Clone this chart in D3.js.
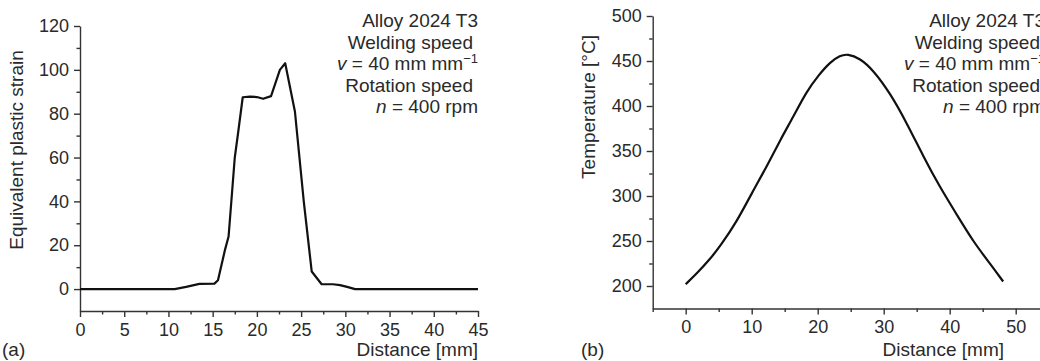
<!DOCTYPE html>
<html>
<head>
<meta charset="utf-8">
<script src="https://cdnjs.cloudflare.com/ajax/libs/d3/7.8.5/d3.min.js"></script>
<style>
  html, body { margin: 0; padding: 0; background: #fff; }
  svg { display: block; font-family: 'Liberation Sans', Arial, sans-serif; }
  .axis path, .axis line { stroke: #333; stroke-width: 1.4; }
  .axis text { fill: #2a2a2a; font-size: 18px; font-family: 'Liberation Sans', Arial, sans-serif; }
  .label { fill: #2a2a2a; font-size: 19px; }
</style>
</head>
<body>
<div id="top_div"></div>
<script>
// panel (a): equivalent plastic strain
var strainDist = [0, 10.7, 12, 13.5, 15.2, 15.6, 16.4, 16.8, 17.5, 17.9, 18.4, 19.2, 20.0, 20.7, 21.6, 22.6, 23.2, 24.3, 25.3, 26.2, 27.3, 28.6, 29.4, 30.2, 31.1, 45];
var strainVals = [0, 0, 1, 2.4, 2.5, 4, 18, 24, 60, 72, 87.5, 87.8, 87.6, 86.8, 88, 100, 103, 81, 40, 8, 2.3, 2.2, 1.8, 1, 0, 0];
var strainXTicks = [0, 5, 10, 15, 20, 25, 30, 35, 40, 45];
var strainYTicks = [0, 20, 40, 60, 80, 100, 120];

// panel (b): temperature
var tempDist = [0, 1.7, 3.7, 5.2, 7.7, 10, 12.3, 14.3, 16.3, 18.3, 20.1, 21.9, 23.4, 24.5, 26.4, 28.4, 31, 33.5, 36, 38.5, 41.1, 43.6, 46.1, 48.1];
var tempVals = [202, 214, 230, 244, 271, 303, 333, 362, 388, 416, 434, 449, 456, 458, 453, 440, 414, 381, 344, 310, 279, 249, 225, 205];
var tempXTicks = [0, 10, 20, 30, 40, 50, 60];
var tempYTicks = [200, 250, 300, 350, 400, 450, 500];

var noteLines = ['Alloy 2024 T3', 'Welding speed', 'v = 40 mm mm', 'Rotation speed', 'n = 400 rpm'];

var vis = d3.select('#top_div')
    .append('svg')
      .attr('width', 1040)
      .attr('height', 361);

function minorTicks(lo, hi, step) {
  var out = [];
  for (var v = lo; v <= hi + 1e-9; v += step) out.push(+v.toFixed(3));
  return out;
}

function drawPanel(p) {
  var g = vis.append('g');
  var x = d3.scaleLinear().domain(p.xDomain).range(p.xRange);
  var y = d3.scaleLinear().domain(p.yDomain).range(p.yRange);
  var bottom = p.yRange[0], left = p.xRange[0];

  // minor ticks first
  g.append('g').attr('class', 'axis')
      .attr('transform', 'translate(0,' + bottom + ')')
      .call(d3.axisBottom(x).tickValues(p.xMinor).tickSize(3.5).tickFormat('').tickSizeOuter(0))
      .select('.domain').remove();
  g.append('g').attr('class', 'axis')
      .attr('transform', 'translate(' + left + ',0)')
      .call(d3.axisLeft(y).tickValues(p.yMinor).tickSize(3.5).tickFormat('').tickSizeOuter(0))
      .select('.domain').remove();

  g.append('g').attr('class', 'axis')
      .attr('transform', 'translate(0,' + bottom + ')')
      .call(d3.axisBottom(x).tickValues(p.xTicks).tickSize(6).tickPadding(6).tickSizeOuter(0));
  g.append('g').attr('class', 'axis')
      .attr('transform', 'translate(' + left + ',0)')
      .call(d3.axisLeft(y).tickValues(p.yTicks).tickSize(6).tickPadding(5).tickSizeOuter(0));

  var line = d3.line()
      .x(function(d) { return x(d[0]); })
      .y(function(d) { return y(d[1]); })
      .curve(p.curve);
  g.append('path')
      .datum(d3.zip(p.xs, p.ys))
      .attr('d', line)
      .attr('fill', 'none')
      .attr('stroke', '#111')
      .attr('stroke-width', 2.2)
      .attr('stroke-linejoin', 'round');

  // axis titles
  g.append('text').attr('class', 'label')
      .attr('x', p.xTitleX).attr('y', 356)
      .attr('text-anchor', 'end')
      .text('Distance [mm]');
  g.append('text').attr('class', 'label')
      .attr('transform', 'translate(' + p.yTitle[0] + ',' + p.yTitle[1] + ') rotate(-90)')
      .attr('text-anchor', 'middle')
      .text(p.yLabel);
  g.append('text').attr('class', 'label')
      .attr('x', p.tagX).attr('y', 356)
      .text(p.tag);

  // annotation block
  var note = g.append('text').attr('class', 'label').attr('text-anchor', 'end');
  noteLines.forEach(function(s, i) {
    var t = note.append('tspan')
        .attr('x', p.noteX - (i === 1 || i === 3 ? 5 : 0))
        .attr('y', 27 + i * 21.5);
    if (i === 2) {
      t.append('tspan').attr('font-style', 'italic').text('v');
      t.append('tspan').text(' = 40 mm mm');
      t.append('tspan').attr('dy', -7).attr('font-size', '13px').text('\u22121');
    } else if (i === 4) {
      t.append('tspan').attr('font-style', 'italic').text('n');
      t.append('tspan').text(' = 400 rpm');
    } else {
      t.text(s);
    }
  });
}

drawPanel({
  xs: strainDist, ys: strainVals,
  xDomain: [0, 45], xRange: [80, 478],
  yDomain: [-10, 120], yRange: [311, 26],
  xTicks: strainXTicks, yTicks: strainYTicks,
  xMinor: minorTicks(2.5, 42.5, 5), yMinor: minorTicks(10, 110, 20),
  curve: d3.curveLinear,
  yLabel: 'Equivalent plastic strain', yTitle: [23, 150],
  xTitleX: 478, tag: '(a)', tagX: 2, noteX: 478
});

drawPanel({
  xs: tempDist, ys: tempVals,
  xDomain: [-5, 60], xRange: [652.7, 1081.7],
  yDomain: [175, 500], yRange: [308.5, 16],
  xTicks: tempXTicks, yTicks: tempYTicks,
  xMinor: minorTicks(-5, 55, 10), yMinor: minorTicks(225, 475, 50),
  curve: d3.curveBasis,
  yLabel: 'Temperature [\u00b0C]', yTitle: [595, 107],
  xTitleX: 1004, tag: '(b)', tagX: 581, noteX: 1045
});
</script>
</body>
</html>
